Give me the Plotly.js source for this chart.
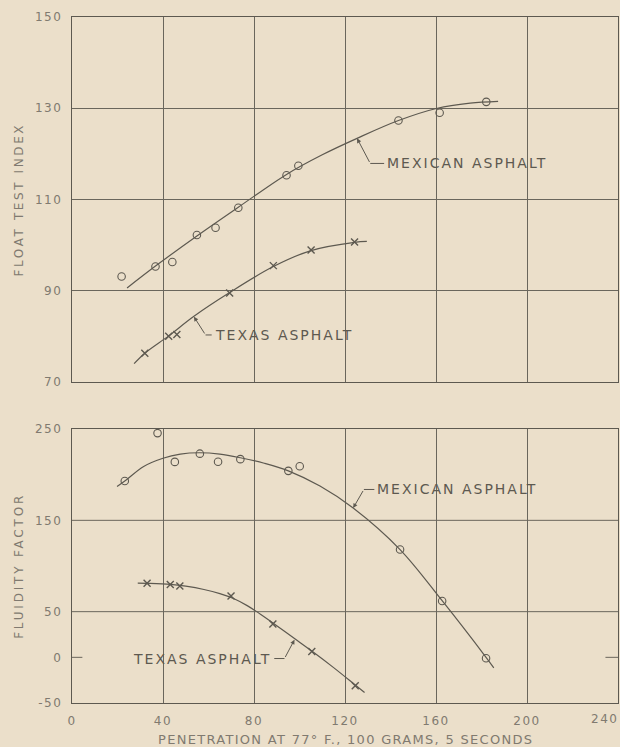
<!DOCTYPE html>
<html>
<head>
<meta charset="utf-8">
<script src="https://cdn.plot.ly/plotly-3.0.1.min.js"></script>
<style>
  html, body { margin: 0; padding: 0; background: #ebdfca; }
  #chart { width: 620px; height: 747px; }
</style>
</head>
<body>
<div id="chart"></div>
<script>
// ---------- Data ----------
// Top panel: Float test index vs penetration
const mexFloatX = [21.8, 36.7, 44.1, 54.9, 63.1, 73.1, 94.3, 99.5, 143.5, 161.6, 182.1];
const mexFloatY = [93.1, 95.3, 96.3, 102.2, 103.8, 108.2, 115.3, 117.4, 127.3, 129.0, 131.4];
const mexFloatCurveX = [24.2, 36.7, 54.9, 73.1, 94.3, 110, 125.3, 143.5, 160.6, 175, 187.3];
const mexFloatCurveY = [90.6, 95.4, 102.0, 108.3, 115.5, 119.8, 123.4, 127.3, 130.0, 131.1, 131.5];

const texFloatX = [32.0, 42.5, 46.1, 69.3, 88.5, 105.1, 124.2];
const texFloatY = [76.3, 80.0, 80.4, 89.5, 95.5, 98.9, 100.7];
const texFloatCurveX = [27.3, 32.0, 42.5, 53.6, 69.3, 88.5, 105.1, 124.2, 129.6];
const texFloatCurveY = [74.0, 76.3, 80.1, 84.4, 89.6, 95.3, 98.8, 100.6, 100.8];

// Bottom panel: Fluidity factor vs penetration
const mexFluidX = [23.2, 37.6, 45.2, 56.2, 64.2, 74.0, 95.1, 100.1, 144.2, 162.7, 182.0];
const mexFluidY = [193, 245.5, 214, 223, 214.2, 217, 204.2, 209.3, 118, 61.6, -1];
const mexFluidCurveX = [19.8, 23.2, 31.5, 40, 47.6, 56, 65, 74, 84.5, 95.1, 109, 123.6, 144.2, 162.7, 182, 185.4];
const mexFluidCurveY = [187, 193, 209, 218, 222.5, 224, 222.5, 218.5, 212.5, 204.2, 187.5, 163.5, 118, 62, 0, -11.5];

const texFluidX = [33.0, 43.2, 47.4, 69.9, 88.3, 105.4, 124.5];
const texFluidY = [81, 79.8, 78, 67.2, 36.6, 6.5, -31.2];
const texFluidCurveX = [28.9, 33, 43.2, 50, 58, 65, 71, 77, 83, 88.3, 97.8, 105.4, 115, 124.5, 128.6];
const texFluidCurveY = [81.2, 81, 79.9, 77.9, 74.3, 69.8, 64.4, 56.6, 47, 37.7, 20.6, 6.9, -11.3, -30.3, -38.5];

// Ticks
const xTickVals = [0, 40, 80, 120, 160, 200];
const xTickLabels = ['0', '40', '80', '120', '160', '200'];
const xLastTick = '240';
const topYTickVals = [70, 90, 110, 130, 150];
const topYTickLabels = ['70', '90', '110', '130', '150'];
const botYTickVals = [-50, 0, 50, 150, 250];
const botYTickLabels = ['-50', '0', '50', '150', '250'];
const botGridVals = [50, 150];

// Texts
const seriesNames = ['MEXICAN ASPHALT', 'TEXAS ASPHALT'];
const xTitle = 'PENETRATION AT 77° F., 100 GRAMS, 5 SECONDS';
const topYTitle = 'FLOAT TEST INDEX';
const botYTitle = 'FLUIDITY FACTOR';

// ---------- Styling / layout ----------
const BG = '#ebdfca';
const INK = '#5d5950';
const GRID = '#6a665c';
const LABEL = '#807a70';
const FONT = 'DejaVu Sans, sans-serif';

function sp(t, ls) { return '<span style="letter-spacing:' + ls + 'px">' + t + '</span>'; }

// Leader label positions (panel, curve point, elbow corner, text anchor)
const leaders = [
  { xr: 'x', yr: 'y', name: 0, px: 125.3, py: 123.4, cx: 131.1, cy: 117.9, tx: 137.6, anchor: 'left' },
  { xr: 'x', yr: 'y', name: 1, px: 53.6, py: 84.3, cx: 58.7, cy: 80.3, tx: 61.8, anchor: 'left' },
  { xr: 'x2', yr: 'y2', name: 0, px: 123.6, py: 163.5, cx: 128.3, cy: 183.8, tx: 133.3, anchor: 'left' },
  { xr: 'x2', yr: 'y2', name: 1, px: 97.8, py: 19.3, cx: 93.4, cy: -1.3, tx: 88.5, anchor: 'right' }
];

function pointsTrace(x, y, xa, ya, symbol) {
  return {
    x: x, y: y, xaxis: xa, yaxis: ya, type: 'scatter', mode: 'markers',
    marker: { symbol: symbol, size: symbol === 'circle-open' ? 7.5 : 7, color: INK, line: { color: INK, width: symbol === 'circle-open' ? 1.1 : 1.4 } },
    showlegend: false, hoverinfo: 'x+y'
  };
}
function curveTrace(x, y, xa, ya) {
  return {
    x: x, y: y, xaxis: xa, yaxis: ya, type: 'scatter', mode: 'lines',
    line: { color: INK, width: 1.2, shape: 'spline', smoothing: 1 },
    showlegend: false, hoverinfo: 'skip'
  };
}

const traces = [
  curveTrace(mexFloatCurveX, mexFloatCurveY, 'x', 'y'),
  pointsTrace(mexFloatX, mexFloatY, 'x', 'y', 'circle-open'),
  curveTrace(texFloatCurveX, texFloatCurveY, 'x', 'y'),
  pointsTrace(texFloatX, texFloatY, 'x', 'y', 'x-thin-open'),
  curveTrace(mexFluidCurveX, mexFluidCurveY, 'x2', 'y2'),
  pointsTrace(mexFluidX, mexFluidY, 'x2', 'y2', 'circle-open'),
  curveTrace(texFluidCurveX, texFluidCurveY, 'x2', 'y2'),
  pointsTrace(texFluidX, texFluidY, 'x2', 'y2', 'x-thin-open')
];
traces[1].name = seriesNames[0]; traces[3].name = seriesNames[1];
traces[5].name = seriesNames[0]; traces[7].name = seriesNames[1];

const tickFont = { family: FONT, size: 12, color: LABEL };
const axisCommon = {
  showline: true, mirror: true, linecolor: INK, linewidth: 1.3,
  zeroline: false, ticks: '', gridcolor: GRID, gridwidth: 1, fixedrange: true
};

const shapes = [];
botGridVals.forEach(v => shapes.push({
  type: 'line', xref: 'x2 domain', yref: 'y2', x0: 0, x1: 1, y0: v, y1: v,
  line: { color: GRID, width: 1 }, layer: 'below'
}));
// short ticks at zero
shapes.push({ type: 'line', xref: 'x2 domain', yref: 'y2', x0: 0, x1: 0.019, y0: 0, y1: 0, line: { color: GRID, width: 1 } });
shapes.push({ type: 'line', xref: 'x2 domain', yref: 'y2', x0: 0.977, x1: 1, y0: 0, y1: 0, line: { color: GRID, width: 1 } });

const annotations = [];
leaders.forEach(L => {
  shapes.push({
    type: 'line', xref: L.xr, yref: L.yr, x0: L.cx, y0: L.cy,
    x1: L.anchor === 'left' ? L.tx - 0.4 : L.tx + 0.4, y1: L.cy,
    line: { color: INK, width: 1 }
  });
  annotations.push({
    xref: L.xr, yref: L.yr, x: L.px, y: L.py, axref: L.xr, ayref: L.yr, ax: L.cx, ay: L.cy,
    text: '', showarrow: true, arrowhead: 2, arrowsize: 0.9, arrowwidth: 1, arrowcolor: INK, standoff: 0
  });
  annotations.push({
    xref: L.xr, yref: L.yr, x: L.tx, y: L.cy, xanchor: L.anchor, yanchor: 'middle',
    text: sp(seriesNames[L.name], 2), showarrow: false,
    font: { family: FONT, size: 14, color: INK }
  });
});

annotations.push({
  xref: 'paper', yref: 'paper', x: -0.097, y: 0.734, xanchor: 'center', yanchor: 'middle',
  text: sp(topYTitle, 2.6), textangle: -90, showarrow: false, font: { family: FONT, size: 12, color: LABEL }
});
annotations.push({
  xref: 'paper', yref: 'paper', x: -0.097, y: 0.2, xanchor: 'center', yanchor: 'middle',
  text: sp(botYTitle, 2.8), textangle: -90, showarrow: false, font: { family: FONT, size: 12, color: LABEL }
});
annotations.push({
  xref: 'paper', yref: 'paper', x: 0.5, y: 0, yshift: -36, xanchor: 'center', yanchor: 'middle',
  text: sp(xTitle, 1.3), showarrow: false, font: { family: FONT, size: 13, color: LABEL }
});
annotations.push({
  xref: 'paper', yref: 'paper', x: 1, xshift: 2, y: 0, yshift: -16, xanchor: 'right', yanchor: 'middle',
  text: sp(xLastTick, 1.5), showarrow: false, font: { family: FONT, size: 12, color: LABEL }
});

const layout = {
  width: 620, height: 747,
  margin: { l: 72, r: 2, t: 17, b: 44 },
  paper_bgcolor: BG, plot_bgcolor: BG,
  showlegend: false,
  font: { family: FONT, color: LABEL },
  xaxis: Object.assign({}, axisCommon, {
    domain: [0, 1], anchor: 'y', range: [0, 240], tickvals: xTickVals.slice(1),
    showticklabels: false, showgrid: true
  }),
  yaxis: Object.assign({}, axisCommon, {
    domain: [0.468, 1], anchor: 'x', range: [70, 150], tickvals: topYTickVals,
    ticktext: topYTickLabels.map(t => sp(t, 1.5)), tickfont: tickFont, showgrid: true, ticklabelstandoff: 6
  }),
  xaxis2: Object.assign({}, axisCommon, {
    domain: [0, 1], anchor: 'y2', range: [0, 240], tickvals: xTickVals,
    ticktext: xTickLabels.map(t => sp(t, 1.5)), tickfont: tickFont, showgrid: true, ticklabelstandoff: 6
  }),
  yaxis2: Object.assign({}, axisCommon, {
    domain: [0, 0.3994], anchor: 'x2', range: [-50, 250], tickvals: botYTickVals,
    ticktext: botYTickLabels.map(t => sp(t, 1.5)), tickfont: tickFont, showgrid: false, ticklabelstandoff: 6
  }),
  shapes: shapes,
  annotations: annotations
};

Plotly.newPlot('chart', traces, layout, { displayModeBar: false, staticPlot: true });
</script>
</body>
</html>
